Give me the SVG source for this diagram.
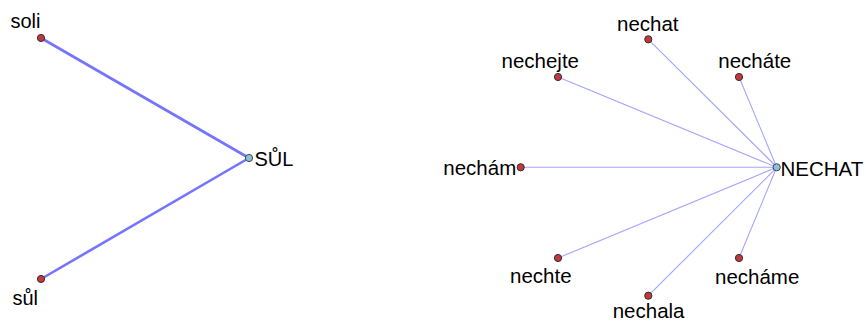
<svg xmlns="http://www.w3.org/2000/svg" width="866" height="324" viewBox="0 0 866 324">
<style>
.lbl{font-family:"Liberation Sans",Arial,sans-serif;fill:#000}
.l1{font-size:20px}
.l2{font-size:20.5px}
.leaf{fill:#c0393f;stroke:#3a2a2a;stroke-width:1}
.hub{fill:#8ec1d8;stroke:#3a4a50;stroke-width:1}
.e1{stroke:#7474ff;stroke-width:2.6;fill:none}
.e2{stroke:#a4a4ff;stroke-width:1.1;fill:none}
</style>
<rect width="866" height="324" fill="#fff"/>
<g id="connectors">
<line class="e1" x1="41" y1="38" x2="249" y2="158"/>
<line class="e1" x1="41" y1="279" x2="249" y2="158"/>
<line class="e2" x1="648.3" y1="39.3" x2="776.7" y2="167"/>
<line class="e2" x1="558" y1="77" x2="776.7" y2="167.3"/>
<line class="e2" x1="739" y1="77" x2="776.7" y2="167.3"/>
<line class="e2" x1="520.7" y1="167.3" x2="776.7" y2="167.3"/>
<line class="e2" x1="558" y1="258" x2="776.7" y2="167.3"/>
<line class="e2" x1="648.3" y1="295.7" x2="776.7" y2="167.6"/>
<line class="e2" x1="739" y1="258" x2="776.7" y2="167.3"/>
</g>
<g id="soli"><circle class="leaf" cx="41" cy="38" r="3.6"/><text class="lbl l1" x="10.5" y="27.5">soli</text></g>
<g id="sul"><circle class="leaf" cx="41" cy="279" r="3.6"/><text class="lbl l1" x="12.5" y="305">sůl</text></g>
<g id="SUL"><circle class="hub" cx="249" cy="158" r="3.6"/><text class="lbl l1" x="254.5" y="166">SŮL</text></g>
<g id="nechat"><circle class="leaf" cx="648.3" cy="39.3" r="3.6"/><text class="lbl l2" x="617" y="30.7">nechat</text></g>
<g id="nechejte"><circle class="leaf" cx="558" cy="77" r="3.6"/><text class="lbl l2" x="501.5" y="67.7">nechejte</text></g>
<g id="nechate"><circle class="leaf" cx="739" cy="77" r="3.6"/><text class="lbl l2" x="718.3" y="68.3">necháte</text></g>
<g id="necham"><circle class="leaf" cx="520.7" cy="167.3" r="3.6"/><text class="lbl l2" x="443.3" y="175.3">nechám</text></g>
<g id="NECHAT"><circle class="hub" cx="776.7" cy="167.3" r="3.6"/><text class="lbl l2" x="780.5" y="175.7">NECHAT</text></g>
<g id="nechte"><circle class="leaf" cx="558" cy="258" r="3.6"/><text class="lbl l2" x="510" y="282.7">nechte</text></g>
<g id="nechala"><circle class="leaf" cx="648.3" cy="295.7" r="3.6"/><text class="lbl l2" x="612.7" y="318.3">nechala</text></g>
<g id="nechame"><circle class="leaf" cx="739" cy="258" r="3.6"/><text class="lbl l2" x="715" y="284.3">necháme</text></g>
</svg>
